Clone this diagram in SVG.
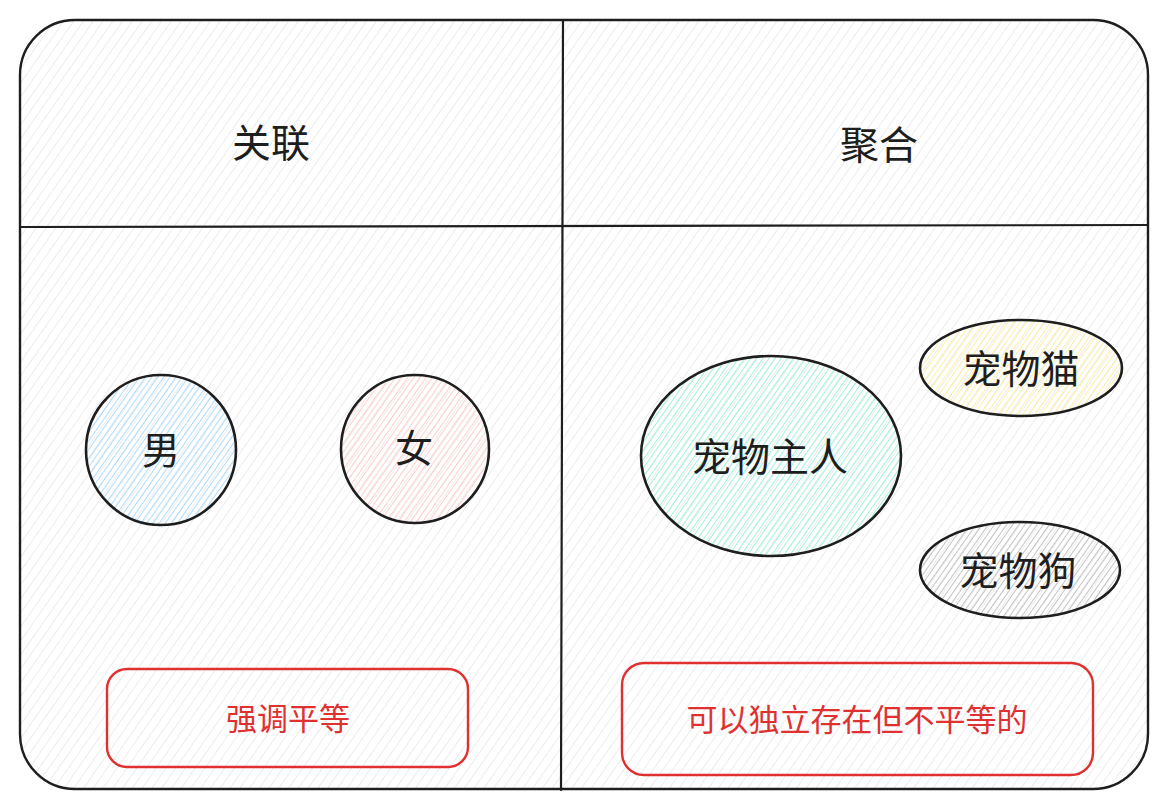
<svg xmlns="http://www.w3.org/2000/svg" width="1168" height="811" viewBox="0 0 1168 811">
<style>
.t{font-family:"Noto Sans CJK SC","Noto Sans",sans-serif;fill:#1e1e1e;text-anchor:middle;dominant-baseline:central}
.r{fill:#e03131;font-size:31px}
.line{stroke:#1e1e1e;stroke-width:2.2;fill:none;stroke-linecap:round}
.node{stroke:#1e1e1e;stroke-width:2.6}
.redbox{fill:none;stroke:#e03131;stroke-width:2.4}
</style>
<defs>
<pattern id="hg" width="8" height="8" patternUnits="userSpaceOnUse" patternTransform="rotate(35)">
<line x1="0" y1="0" x2="0" y2="8" stroke="#d9d9d9" stroke-width="1"/>
</pattern>
<pattern id="hb" width="5" height="5" patternUnits="userSpaceOnUse" patternTransform="rotate(35)">
<line x1="0" y1="0" x2="0" y2="5" stroke="#a5d8ff" stroke-width="1.8"/>
</pattern>
<pattern id="hp" width="5" height="5" patternUnits="userSpaceOnUse" patternTransform="rotate(35)">
<line x1="0" y1="0" x2="0" y2="5" stroke="#ffc9c9" stroke-width="1.8"/>
</pattern>
<pattern id="hgr" width="5" height="5" patternUnits="userSpaceOnUse" patternTransform="rotate(35)">
<line x1="0" y1="0" x2="0" y2="5" stroke="#96f2d7" stroke-width="1.8"/>
</pattern>
<pattern id="hy" width="5" height="5" patternUnits="userSpaceOnUse" patternTransform="rotate(35)">
<line x1="0" y1="0" x2="0" y2="5" stroke="#ffec99" stroke-width="1.8"/>
</pattern>
<pattern id="hk" width="5" height="5" patternUnits="userSpaceOnUse" patternTransform="rotate(35)">
<line x1="0" y1="0" x2="0" y2="5" stroke="#b0b0b0" stroke-width="1.5"/>
</pattern>
</defs>
<rect width="1168" height="811" fill="#ffffff"/>
<g id="frame">
<rect x="20" y="20" width="1128" height="769" rx="55" fill="url(#hg)" stroke="#1e1e1e" stroke-width="2.4"/>
<line class="line" x1="563" y1="21" x2="561" y2="790"/>
<line class="line" x1="21" y1="227" x2="1147" y2="225"/>
<text class="t" x="271" y="140" font-size="39">关联</text>
<text class="t" x="879" y="142" font-size="39">聚合</text>
</g>
<g id="node-male">
<circle cx="161" cy="450" r="75" fill="url(#hb)" class="node"/>
<text class="t" x="161" y="447" font-size="38">男</text>
</g>
<g id="node-female">
<circle cx="415" cy="449" r="74" fill="url(#hp)" class="node"/>
<text class="t" x="414" y="445" font-size="38">女</text>
</g>
<g id="node-owner">
<ellipse cx="771" cy="456" rx="130" ry="100" fill="url(#hgr)" class="node"/>
<text class="t" x="770" y="454" font-size="39">宠物主人</text>
</g>
<g id="node-cat">
<ellipse cx="1021" cy="368" rx="101" ry="48" fill="url(#hy)" class="node"/>
<text class="t" x="1021" y="366" font-size="39">宠物猫</text>
</g>
<g id="node-dog">
<ellipse cx="1020" cy="570" rx="100" ry="48" fill="url(#hk)" class="node"/>
<text class="t" x="1018" y="568" font-size="39">宠物狗</text>
</g>
<g id="note-left">
<rect x="107" y="669" width="361" height="98" rx="20" class="redbox"/>
<text class="t r" x="288" y="716">强调平等</text>
</g>
<g id="note-right">
<rect x="622" y="663" width="471" height="112" rx="22" class="redbox"/>
<text class="t r" x="857" y="717">可以独立存在但不平等的</text>
</g>
<g id="connectors"></g>
</svg>
